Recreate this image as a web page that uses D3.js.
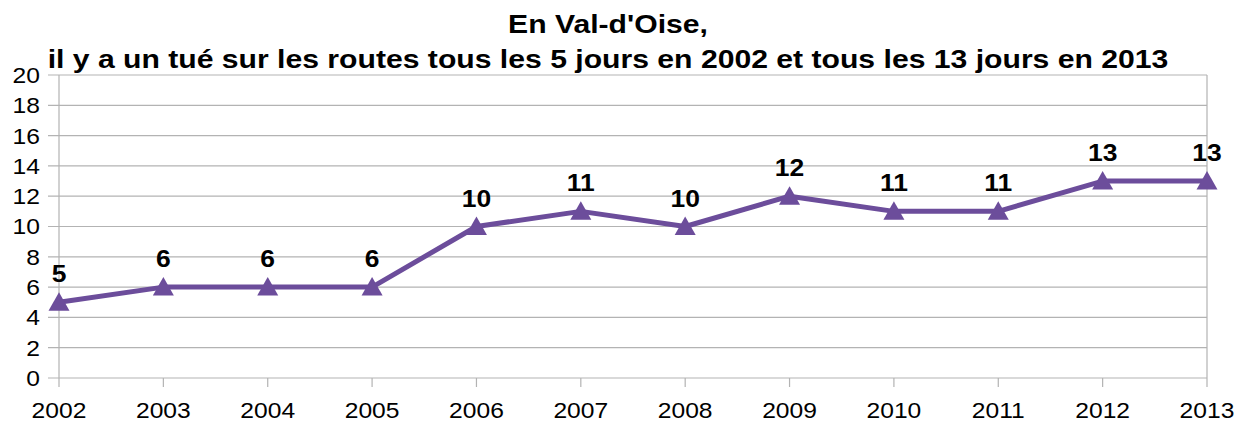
<!DOCTYPE html>
<html>
<head>
<meta charset="utf-8">
<script src="https://cdn.jsdelivr.net/npm/d3@7"></script>
<style>
  body { margin: 0; background: #fff; }
  svg text { font-family: "Liberation Sans", Arial, sans-serif; }
</style>
</head>
<body>
<div class="chart"></div>
<script>
  const years = ["2002", "2003", "2004", "2005", "2006", "2007", "2008", "2009", "2010", "2011", "2012", "2013"];
  const tues = [5, 6, 6, 6, 10, 11, 10, 12, 11, 11, 13, 13];
  const yTicks = [0, 2, 4, 6, 8, 10, 12, 14, 16, 18, 20];
  const titleLines = ["En Val-d'Oise,", "il y a un tué sur les routes tous les 5 jours en 2002 et tous les 13 jours en 2013"];

  const width = 1238;
  const height = 423;
  const lineColor = "#6c4d9b";
  const gridColor = "#b3b3b3";
  // the original picture is a bit stretched sideways
  const stretch = 1.12;

  const svg = d3.select('.chart')
      .append('svg')
      .attr('width', width)
      .attr('height', height);

  const x = d3.scalePoint()
      .domain(years)
      .range([59, 1207]);

  const y = d3.scaleLinear()
      .domain([0, 20])
      .range([378, 75]);

  // grid lines
  svg.append('g')
      .selectAll('line')
      .data(yTicks)
      .enter().append('line')
      .attr('x1', 48)
      .attr('x2', 1207)
      .attr('y1', d => y(d))
      .attr('y2', d => y(d))
      .attr('stroke', gridColor)
      .attr('stroke-width', 1.2);

  // y axis line and right border
  svg.append('line')
      .attr('x1', 59).attr('x2', 59)
      .attr('y1', y(20)).attr('y2', y(0))
      .attr('stroke', gridColor).attr('stroke-width', 1.2);
  svg.append('line')
      .attr('x1', 1207).attr('x2', 1207)
      .attr('y1', y(20)).attr('y2', y(0))
      .attr('stroke', gridColor).attr('stroke-width', 1.2);

  // x tick marks
  svg.append('g')
      .selectAll('line')
      .data(years)
      .enter().append('line')
      .attr('x1', d => x(d))
      .attr('x2', d => x(d))
      .attr('y1', y(0))
      .attr('y2', y(0) + 9)
      .attr('stroke', gridColor)
      .attr('stroke-width', 1.2);

  // y labels
  svg.append('g')
      .selectAll('text')
      .data(yTicks)
      .enter().append('text')
      .attr('transform', d => `translate(40,${y(d)}) scale(${stretch},1)`)
      .attr('dy', '0.36em')
      .attr('text-anchor', 'end')
      .attr('font-size', '22px')
      .attr('fill', '#000')
      .text(d => d);

  // x labels
  svg.append('g')
      .selectAll('text')
      .data(years)
      .enter().append('text')
      .attr('transform', d => `translate(${x(d)},418) scale(${stretch},1)`)
      .attr('text-anchor', 'middle')
      .attr('font-size', '22px')
      .attr('fill', '#000')
      .text(d => d);

  // line
  const line = d3.line()
      .x((d, i) => x(years[i]))
      .y(d => y(d));

  svg.append('path')
      .datum(tues)
      .attr('d', line)
      .attr('fill', 'none')
      .attr('stroke', lineColor)
      .attr('stroke-width', 5)
      .attr('stroke-linejoin', 'round');

  // triangle markers
  svg.append('g')
      .selectAll('path')
      .data(tues)
      .enter().append('path')
      .attr('transform', (d, i) => `translate(${x(years[i])},${y(d)})`)
      .attr('d', 'M0,-10 L10.5,8.5 L-10.5,8.5 Z')
      .attr('fill', lineColor);

  // value labels
  svg.append('g')
      .selectAll('text')
      .data(tues)
      .enter().append('text')
      .attr('transform', (d, i) => `translate(${x(years[i])},${y(d) - 20}) scale(1.15,1)`)
      .attr('text-anchor', 'middle')
      .attr('font-size', '23px')
      .attr('font-weight', 'bold')
      .attr('fill', '#000')
      .text(d => d);

  // title
  svg.append('g')
      .selectAll('text')
      .data(titleLines)
      .enter().append('text')
      .attr('transform', (d, i) => `translate(608,${33 + i * 35}) scale(1.16,1)`)
      .attr('text-anchor', 'middle')
      .attr('font-size', '26px')
      .attr('font-weight', 'bold')
      .attr('fill', '#000')
      .text(d => d);
</script>
</body>
</html>
